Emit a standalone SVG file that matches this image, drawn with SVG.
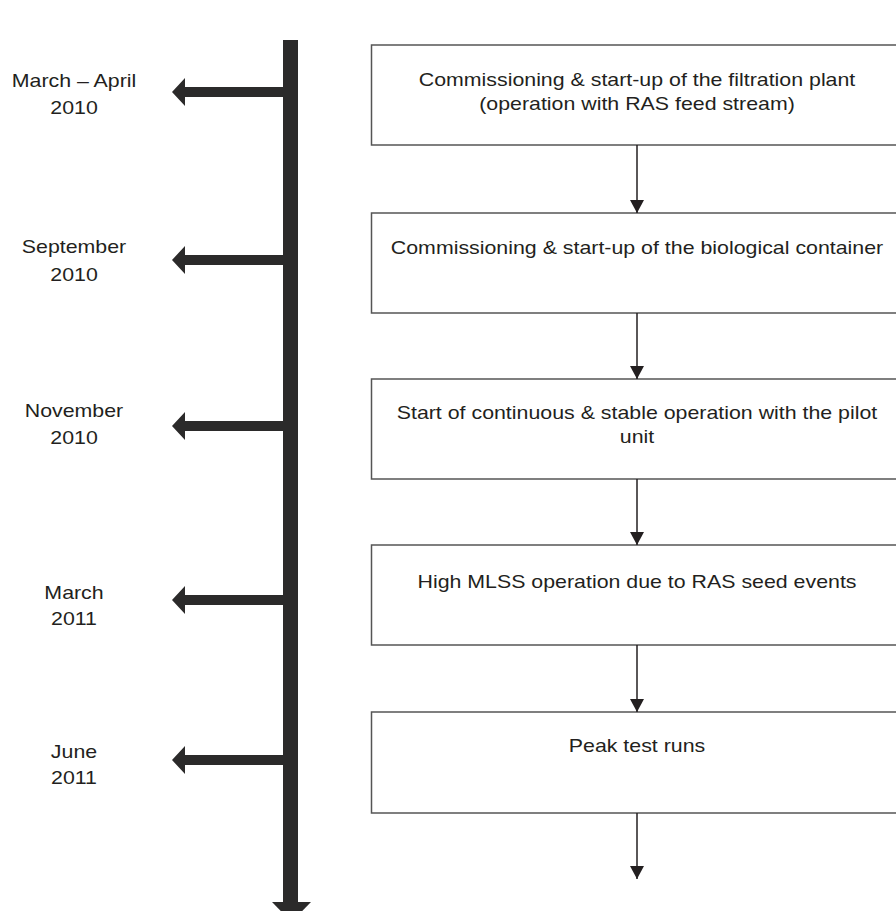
<svg xmlns="http://www.w3.org/2000/svg" width="896" height="911" viewBox="0 0 896 911">
<defs>
<style>
text{font-family:"Liberation Sans",Arial,sans-serif;font-size:17.5px;fill:#231f20;text-anchor:middle}
.box{fill:#fff;stroke:#555;stroke-width:1.5}
.flow{stroke:#231f20;stroke-width:1.5;fill:none}
.tl{fill:#2b2a2a}
</style>
<marker id="ah" markerWidth="14" markerHeight="22" refX="13" refY="7" orient="auto" markerUnits="userSpaceOnUse">
<path d="M0,0 L13,7 L0,14 Z" fill="#231f20"/>
</marker>
</defs>
<rect width="896" height="911" fill="#fff"/>
<g id="timeline">
<rect class="tl" x="283" y="40" width="15" height="864"/>
<path class="tl" d="M272,902 L311,902 L291.5,922 Z"/>
</g>
<g id="dates">
<g id="d1"><path class="tl" d="M284,87 L185,87 L185,78 L172,92 L185,106 L185,97 L284,97 Z"/>
<g transform="translate(74 0) scale(1.22 1)"><text x="0" y="87">March – April</text><text x="0" y="114">2010</text></g></g>
<g id="d2"><path class="tl" d="M284,255 L185,255 L185,246 L172,260 L185,274 L185,265 L284,265 Z"/>
<g transform="translate(74 0) scale(1.22 1)"><text x="0" y="253">September</text><text x="0" y="281">2010</text></g></g>
<g id="d3"><path class="tl" d="M284,421 L185,421 L185,412 L172,426 L185,440 L185,431 L284,431 Z"/>
<g transform="translate(74 0) scale(1.22 1)"><text x="0" y="417">November</text><text x="0" y="444">2010</text></g></g>
<g id="d4"><path class="tl" d="M284,595 L185,595 L185,586 L172,600 L185,614 L185,605 L284,605 Z"/>
<g transform="translate(74 0) scale(1.22 1)"><text x="0" y="599">March</text><text x="0" y="625">2011</text></g></g>
<g id="d5"><path class="tl" d="M284,755 L185,755 L185,746 L172,760 L185,774 L185,765 L284,765 Z"/>
<g transform="translate(74 0) scale(1.22 1)"><text x="0" y="758">June</text><text x="0" y="784">2011</text></g></g>
</g>
<g id="n1"><rect class="box" x="371.5" y="45" width="531" height="100"/>
<g transform="translate(637 0) scale(1.22 1)"><text x="0" y="86">Commissioning &amp; start-up of the filtration plant</text>
<text x="0" y="110">(operation with RAS feed stream)</text></g></g>
<g id="n2"><rect class="box" x="371.5" y="213" width="531" height="100"/>
<g transform="translate(637 0) scale(1.22 1)"><text x="0" y="254">Commissioning &amp; start-up of the biological container</text></g></g>
<g id="n3"><rect class="box" x="371.5" y="379" width="531" height="100"/>
<g transform="translate(637 0) scale(1.22 1)"><text x="0" y="419">Start of continuous &amp; stable operation with the pilot</text>
<text x="0" y="443">unit</text></g></g>
<g id="n4"><rect class="box" x="371.5" y="545" width="531" height="100"/>
<g transform="translate(637 0) scale(1.22 1)"><text x="0" y="588">High MLSS operation due to RAS seed events</text></g></g>
<g id="n5"><rect class="box" x="371.5" y="712" width="531" height="101"/>
<g transform="translate(637 0) scale(1.22 1)"><text x="0" y="752">Peak test runs</text></g></g>
<g id="connectors">
<line class="flow" x1="637" y1="145" x2="637" y2="213" marker-end="url(#ah)"/>
<line class="flow" x1="637" y1="313" x2="637" y2="379" marker-end="url(#ah)"/>
<line class="flow" x1="637" y1="479" x2="637" y2="545" marker-end="url(#ah)"/>
<line class="flow" x1="637" y1="645" x2="637" y2="712" marker-end="url(#ah)"/>
<line class="flow" x1="637" y1="813" x2="637" y2="879" marker-end="url(#ah)"/>
</g>
</svg>
